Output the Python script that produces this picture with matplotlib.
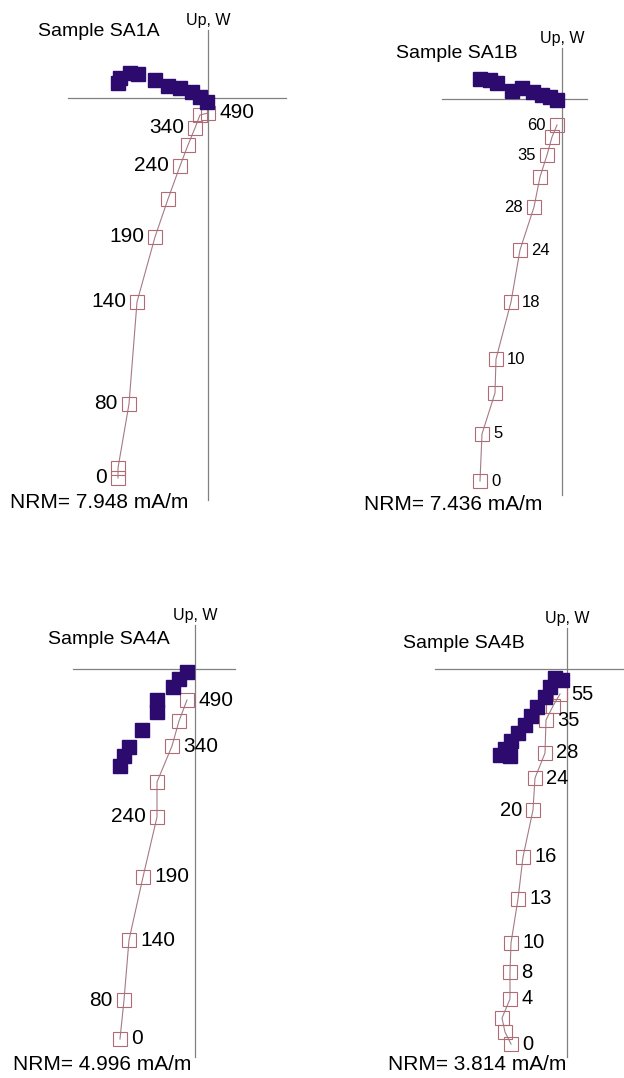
import matplotlib
matplotlib.use("Agg")
import matplotlib.pyplot as plt

plt.rcParams['font.family'] = ['Liberation Sans', 'DejaVu Sans']

W, H = 624, 1078
PX = 10.0  # pixels per data unit

# --- Sample SA1A ---
sa1a_vert_h = [-9.0, -9.0, -7.9, -7.1, -5.3, -4.0, -2.8, -2.0, -1.3, -0.8, 0.0]
sa1a_vert_v = [-38.0, -37.0, -30.6, -20.4, -13.9, -10.1, -6.8, -4.7, -3.0, -1.7, -1.5]
sa1a_steps = ['0', '', '80', '140', '190', '', '240', '', '340', '', '490']
sa1a_side = ['l', '', 'l', 'l', 'l', '', 'l', '', 'l', '', 'r']
sa1a_horiz_h = [-9.0, -8.8, -7.8, -7.0, -5.3, -4.0, -2.8, -1.6, -0.8, -0.1]
sa1a_horiz_v = [1.5, 2.0, 2.5, 2.4, 1.8, 1.2, 1.0, 0.6, 0.1, -0.4]

# --- Sample SA1B ---
sa1b_vert_h = [-8.2, -8.0, -6.7, -6.6, -5.1, -4.2, -2.8, -2.2, -1.5, -1.0, -0.5]
sa1b_vert_v = [-38.2, -33.5, -29.4, -26.0, -20.3, -15.1, -10.8, -7.8, -5.6, -3.8, -2.6]
sa1b_steps = ['0', '5', '', '10', '18', '24', '28', '', '35', '', '60']
sa1b_side = ['r', 'r', '', 'r', 'r', 'r', 'l', '', 'l', '', 'l']
sa1b_horiz_h = [-8.2, -7.2, -6.5, -5.0, -4.0, -2.9, -2.0, -1.2, -0.5]
sa1b_horiz_v = [2.0, 1.9, 1.6, 0.8, 1.1, 0.7, 0.4, 0.2, -0.1]

# --- Sample SA4A ---
sa4a_vert_h = [-7.5, -7.1, -6.6, -5.2, -3.8, -3.8, -2.3, -1.6, -0.8]
sa4a_vert_v = [-37.0, -33.1, -27.1, -20.8, -14.8, -11.3, -7.7, -5.2, -3.1]
sa4a_steps = ['0', '80', '140', '190', '240', '', '340', '', '490']
sa4a_side = ['r', 'l', 'r', 'r', 'l', '', 'r', '', 'r']
sa4a_horiz_h = [-0.8, -1.6, -2.2, -3.8, -3.8, -5.3, -6.6, -7.1, -7.5]
sa4a_horiz_v = [-0.3, -1.0, -1.8, -3.1, -4.3, -6.1, -7.8, -8.7, -9.7]

# --- Sample SA4B ---
sa4b_vert_h = [-5.6, -6.2, -6.5, -5.7, -5.7, -5.6, -4.9, -4.4, -3.4, -3.2, -2.2, -2.1, -1.4, -0.7]
sa4b_vert_v = [-37.5, -36.3, -34.9, -33.0, -30.3, -27.4, -23.0, -18.8, -14.1, -10.9, -8.4, -5.1, -3.7, -2.5]
sa4b_steps = ['0', '', '', '4', '8', '10', '13', '16', '20', '24', '28', '35', '', '55']
sa4b_side = ['r', '', '', 'r', 'r', 'r', 'r', 'r', 'l', 'r', 'r', 'r', '', 'r']
sa4b_horiz_h = [-0.5, -1.2, -1.7, -2.2, -3.0, -3.6, -4.2, -4.9, -5.6, -6.2, -6.7, -5.7]
sa4b_horiz_v = [-1.1, -0.9, -1.8, -2.8, -3.8, -4.7, -5.6, -6.4, -7.2, -8.0, -8.6, -8.7]

panels = [
    dict(name='Sample SA1A', nrm='NRM= 7.948 mA/m', origin=(208, 98),
         vh=sa1a_vert_h, vv=sa1a_vert_v, hh=sa1a_horiz_h, hv=sa1a_horiz_v,
         steps=sa1a_steps, side=sa1a_side, fs=15,
         hline=(-14.0, 7.8), vline=(6.8, -40.2),
         title_xy=(38, 32), nrm_xy=(10, 502)),
    dict(name='Sample SA1B', nrm='NRM= 7.436 mA/m', origin=(562, 99),
         vh=sa1b_vert_h, vv=sa1b_vert_v, hh=sa1b_horiz_h, hv=sa1b_horiz_v,
         steps=sa1b_steps, side=sa1b_side, fs=12,
         hline=(-12.0, 2.5), vline=(5.1, -39.6),
         title_xy=(396, 53), nrm_xy=(364, 505)),
    dict(name='Sample SA4A', nrm='NRM= 4.996 mA/m', origin=(195, 669),
         vh=sa4a_vert_h, vv=sa4a_vert_v, hh=sa4a_horiz_h, hv=sa4a_horiz_v,
         steps=sa4a_steps, side=sa4a_side, fs=15,
         hline=(-12.2, 4.0), vline=(4.4, -38.8),
         title_xy=(48, 640), nrm_xy=(13, 1064)),
    dict(name='Sample SA4B', nrm='NRM= 3.814 mA/m', origin=(567, 669),
         vh=sa4b_vert_h, vv=sa4b_vert_v, hh=sa4b_horiz_h, hv=sa4b_horiz_v,
         steps=sa4b_steps, side=sa4b_side, fs=14.5,
         hline=(-13.2, 5.7), vline=(4.1, -38.8),
         title_xy=(403, 643), nrm_xy=(388, 1065)),
]

fig = plt.figure(figsize=(W / 100, H / 100), dpi=100)

for p in panels:
    ox, oy = p['origin']
    ax = fig.add_axes([0, 0, 1, 1])
    ax.set_xlim(-ox / PX, (W - ox) / PX)
    ax.set_ylim(-(H - oy) / PX, oy / PX)
    ax.axis('off')
    ax.patch.set_alpha(0)

    # axes cross
    ax.plot(p['hline'], [0, 0], color='#808080', lw=0.9, zorder=1)
    ax.plot([0, 0], p['vline'], color='#808080', lw=0.9, zorder=1)
    ax.text(0, p['vline'][0] + 0.2, 'Up, W', ha='center', va='bottom', fontsize=11.5)

    # vertical projection (open squares)
    ax.plot(p['vh'], p['vv'], color='#a57a86', lw=0.8, zorder=2)
    ax.plot(p['vh'], p['vv'], ls='none', marker='s', ms=9.5, mfc='none',
            mec='#b06c74', mew=0.8, zorder=3)

    # horizontal projection (filled squares)
    ax.plot(p['hh'], p['hv'], ls='none', marker='s', ms=10, mfc='#2d0a6e',
            mec='#2d0a6e', zorder=4)

    for h, v, s, sd in zip(p['vh'], p['vv'], p['steps'], p['side']):
        if not s:
            continue
        if sd == 'r':
            ax.annotate(s, (h, v), xytext=(8, 0), textcoords='offset points',
                        ha='left', va='center', fontsize=p['fs'])
        else:
            ax.annotate(s, (h, v), xytext=(-8, 0), textcoords='offset points',
                        ha='right', va='center', fontsize=p['fs'])

    tx, ty = p['title_xy']
    fig.text(tx / W, 1 - ty / H, p['name'], ha='left', va='center', fontsize=14)
    nx, ny = p['nrm_xy']
    fig.text(nx / W, 1 - ny / H, p['nrm'], ha='left', va='center', fontsize=15)

fig.savefig('out.png', dpi=100)
